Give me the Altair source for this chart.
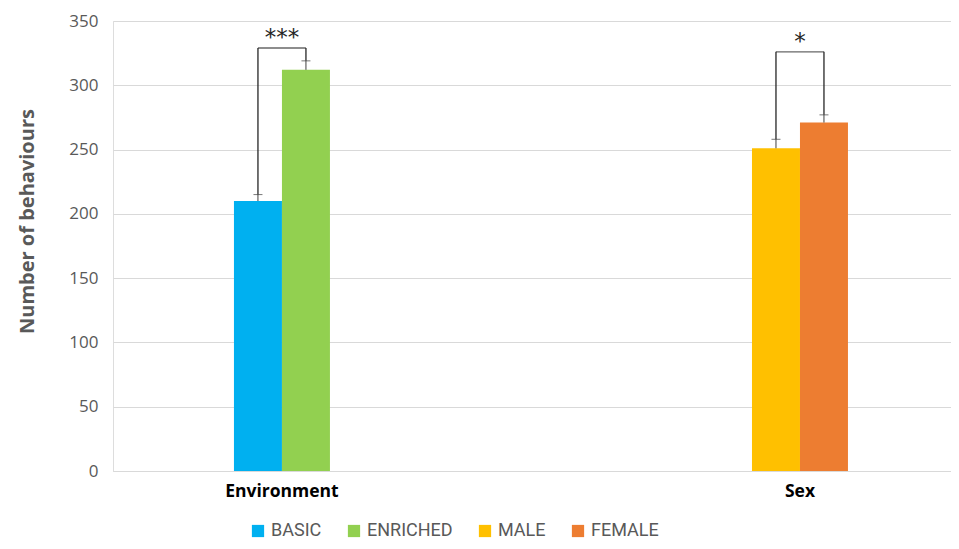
import altair as alt
import pandas as pd

groups = ["Environment", "Environment", "Sex", "Sex"]
series = ["BASIC", "ENRICHED", "MALE", "FEMALE"]
slots = ["a", "b", "a", "b"]
means = [210, 312, 251, 271]
errors = [5, 7, 7, 6]
colors = ["#00B0F0", "#92D050", "#FFC000", "#ED7D31"]

sig_groups = ["Environment", "Sex"]
sig_heights = [329, 326]
sig_labels = ["***", "*"]

df = pd.DataFrame({
    "group": groups,
    "series": series,
    "slot": slots,
    "mean": means,
    "top": [m + e for m, e in zip(means, errors)],
    "bracket": [sig_heights[sig_groups.index(g)] for g in groups],
})
sig = pd.DataFrame({"group": sig_groups, "bracket": sig_heights, "stars": sig_labels})

FONT = "Open Sans"

xscale = alt.Scale(domain=sig_groups, paddingInner=0.8147, paddingOuter=0.2162, align=0.54)
X = alt.X("group:N", scale=xscale, sort=sig_groups,
          axis=alt.Axis(title=None, labelAngle=0, labelFontWeight="bold", labelFontSize=17.5,
                        labelColor="#000000", labelFont=FONT, labelPadding=11, ticks=False,
                        domainColor="#D9D9D9", labelBaseline="top"))
XO = alt.XOffset("slot:N", scale=alt.Scale(domain=["a", "b"], paddingInner=0, paddingOuter=0))
yscale = alt.Scale(domain=[0, 350], nice=False)
Y = alt.Y("mean:Q", scale=yscale,
          axis=alt.Axis(title="Number of behaviours", values=list(range(0, 351, 50)),
                        labelFontSize=17, labelColor="#595959", labelFont=FONT, labelPadding=15,
                        ticks=False, domain=False, gridColor="#D9D9D9",
                        titleFontSize=20, titleFontWeight="bold", titleColor="#595959",
                        titleFont=FONT, titleX=-86, titleY=200, titleAngle=-90,
                        titleAlign="center", titleBaseline="middle"))

base = alt.Chart(df)
bars = base.mark_bar().encode(
    x=X, xOffset=XO, y=Y,
    color=alt.Color("series:N", scale=alt.Scale(domain=series, range=colors),
                    legend=alt.Legend(title=None, orient="none", legendX=136, legendY=501,
                                      direction="horizontal", columns=4, symbolType="square",
                                      symbolSize=150, symbolStrokeWidth=0, labelFontSize=18,
                                      labelColor="#595959", labelFont="Roboto",
                                      labelOffset=4, columnPadding=23)),
)
errs = base.mark_rule(color="#404040", strokeWidth=1).encode(
    x=X, xOffset=XO, y=alt.Y("mean:Q", scale=yscale), y2="top:Q")
caps = base.mark_tick(color="#404040", size=9, thickness=1).encode(
    x=X, xOffset=XO, y=alt.Y("top:Q", scale=yscale))
vbr = base.mark_rule(color="#262626", strokeWidth=1.3).encode(
    x=X, xOffset=XO, y=alt.Y("top:Q", scale=yscale), y2="bracket:Q")
hbr = alt.Chart(sig).mark_tick(color="#262626", size=48, thickness=1.3).encode(
    x=X, y=alt.Y("bracket:Q", scale=yscale))
stars = alt.Chart(sig).mark_text(fontSize=23, color="#262626", baseline="middle", dy=-10,
                                 font="DejaVu Sans").encode(
    x=X, y=alt.Y("bracket:Q", scale=yscale), text="stars:N")

chart = alt.layer(bars, errs, caps, vbr, hbr, stars).properties(
    width=838, height=450,
    autosize=alt.AutoSizeParams(type="none"),
    padding={"left": 105, "top": 13, "right": 0, "bottom": 70},
).configure_view(stroke=None).configure(background="white")

chart.save("out.html", embed_options={"renderer": "svg", "actions": False})
